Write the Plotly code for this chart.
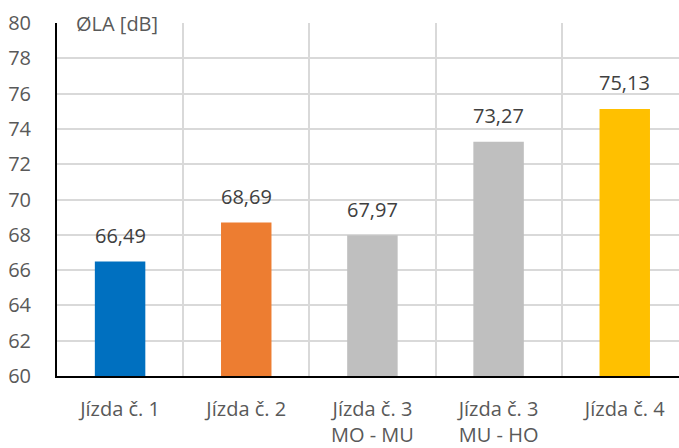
import plotly.graph_objects as go

categories = ["Jízda č. 1", "Jízda č. 2", "Jízda č. 3<br>MO - MU", "Jízda č. 3<br>MU - HO", "Jízda č. 4"]
values = [66.49, 68.69, 67.97, 73.27, 75.13]
labels = ["66,49", "68,69", "67,97", "73,27", "75,13"]
colors = ["#0070C0", "#ED7D31", "#BFBFBF", "#BFBFBF", "#FFC000"]
y_ticks = [60, 62, 64, 66, 68, 70, 72, 74, 76, 78, 80]

FONT = "Open Sans"
SIZE = 20
x_pos = list(range(len(categories)))

fig = go.Figure(go.Bar(
    x=x_pos,
    y=values,
    base=0,
    width=0.4,
    marker=dict(color=colors, line=dict(width=0)),
    hoverinfo="skip",
))

# value labels above each bar
annotations = [
    dict(x=x, y=v, xref="x", yref="y", text=t, showarrow=False,
         xanchor="center", yanchor="middle", yshift=26,
         font=dict(family=FONT, size=SIZE, color="#404040"))
    for x, v, t in zip(x_pos, values, labels)
]
annotations.append(dict(
    text="ØLA [dB]", xref="paper", yref="paper", x=0.028, y=1.0,
    xanchor="left", yanchor="middle", showarrow=False,
    font=dict(family=FONT, size=SIZE, color="#595959"),
))

fig.update_layout(
    width=679, height=448,
    margin=dict(l=57, r=0, t=23, b=69),
    paper_bgcolor="white",
    plot_bgcolor="white",
    showlegend=False,
    font=dict(family=FONT, size=SIZE, color="#595959"),
    xaxis=dict(
        range=[-0.5, 4.43],
        tickvals=x_pos,
        ticktext=categories,
        showgrid=False,
        zeroline=False,
        showline=True, linecolor="black", linewidth=2,
        ticks="", ticklabelstandoff=14,
        tickfont=dict(family=FONT, size=SIZE, color="#595959"),
        minor=dict(tick0=0.5, dtick=1, showgrid=True, gridcolor="#D9D9D9", gridwidth=1.5, ticks=""),
    ),
    yaxis=dict(
        range=[60, 80],
        tickvals=y_ticks,
        showgrid=True, gridcolor="#D9D9D9", gridwidth=1.5,
        zeroline=False,
        showline=True, linecolor="black", linewidth=2,
        ticks="", ticklabelstandoff=20,
        tickfont=dict(family=FONT, size=SIZE, color="#595959"),
    ),
    annotations=annotations,
)

fig.write_html("out.html")
